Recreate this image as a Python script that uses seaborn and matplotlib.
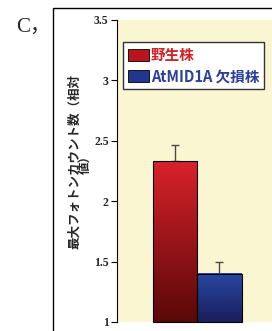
import matplotlib
matplotlib.use("Agg")
import matplotlib.pyplot as plt
import matplotlib.patches as mpatches
import seaborn as sns
import numpy as np
import pandas as pd

# datos
grupos = ["野生株", "AtMID1A 欠損株"]
valores = [2.33, 1.40]
errores = [0.135, 0.10]
yticks = [1, 1.5, 2, 2.5, 3, 3.5]
ytick_labels = ["1", "1.5", "2", "2.5", "3", "3.5"]

sns.set_theme(style="white")
plt.rcParams['font.family'] = ['Noto Sans CJK JP', 'DejaVu Sans']

fig = plt.figure(figsize=(2.72, 3.31), dpi=100)
ax = fig.add_axes([117 / 272, 1 - 322 / 331, 1 - 117 / 272, 302 / 331])
ax.set_facecolor("#fbf6d2")

y_min = 1
df = pd.DataFrame({"grupo": grupos, "valor": valores})
sns.barplot(data=df, x="grupo", y="valor", ax=ax, width=1.0,
            palette=["#c0181f", "#22368e"], hue="grupo", legend=False,
            edgecolor="black", linewidth=0.8, errorbar=None, zorder=2)

# degradado en cada barra (desde el limite inferior del eje)
grad_colores = [("#d8222a", "#5a0808"), ("#2a47a2", "#1a1f5c")]
for patch, (c_top, c_bot) in zip(list(ax.patches), grad_colores):
    x0 = patch.get_x()
    w, top = patch.get_width(), patch.get_y() + patch.get_height()
    patch.set_visible(False)
    cmap = matplotlib.colors.LinearSegmentedColormap.from_list("g", [c_bot, c_top])
    grad = np.linspace(0, 1, 100).reshape(-1, 1)
    ax.imshow(grad, cmap=cmap, aspect="auto", origin="lower",
              extent=(x0, x0 + w, y_min, top), zorder=2.5)
    ax.add_patch(mpatches.Rectangle((x0, y_min), w, top - y_min, fill=False,
                                    edgecolor="black", linewidth=0.8, zorder=3,
                                    clip_on=False))

# barras de error (solo hacia arriba)
for i, (v, e) in enumerate(zip(valores, errores)):
    ax.errorbar(i, v, yerr=[[0], [e]], color="#4a4a40", capsize=3,
                linewidth=1, capthick=1, zorder=1.5)

ax.set_xlim(-1.30, 2.18)
ax.set_ylim(y_min, 3.5)
ax.set_xticks([])
ax.set_xlabel("")
ax.set_yticks(yticks)
ax.set_yticklabels(ytick_labels, family="Liberation Serif", fontweight="bold", fontsize=8.5)
ax.tick_params(axis="y", direction="out", length=4, width=0.8, color="black", left=True, pad=2)
for s in ["top", "right", "bottom"]:
    ax.spines[s].set_visible(False)
ax.spines["left"].set_color("black")
ax.spines["left"].set_linewidth(0.8)

ax.set_ylabel("最大フォトンカウント数（相対\n値）", fontsize=9, fontweight="bold",
              linespacing=0.8, ha="center", va="center")
ax.yaxis.set_label_coords(-0.24, 0.53)

# leyenda
handles = [mpatches.Patch(facecolor="#b8161c", edgecolor="black", linewidth=0.6),
           mpatches.Patch(facecolor="#22368e", edgecolor="black", linewidth=0.6)]
leg = ax.legend(handles, grupos, loc="upper left", bbox_to_anchor=(0.039, 0.927),
                frameon=True, fancybox=False, edgecolor="#333333", facecolor="white",
                prop={"family": ["Noto Sans CJK JP", "DejaVu Sans"], "weight": "bold", "size": 10.5},
                handlelength=1.4, handleheight=0.9, handletextpad=0.15,
                borderpad=0.35, borderaxespad=0, labelspacing=0.35, framealpha=1)
leg.get_frame().set_linewidth(1.0)
for t, c in zip(leg.get_texts(), ["#d42027", "#2a3f9a"]):
    t.set_color(c)

# marco exterior y letra del panel
fig.add_artist(mpatches.Rectangle((53 / 272, -0.1), 1, 1.1 - 8 / 331, transform=fig.transFigure,
                                  fill=False, edgecolor="black", linewidth=1))
fig.text(16 / 272, 1 - 27 / 331, "C，", family=["Liberation Serif", "Noto Sans CJK JP"],
         fontsize=15, va="center", ha="left")

fig.savefig("out.png", dpi=100)
